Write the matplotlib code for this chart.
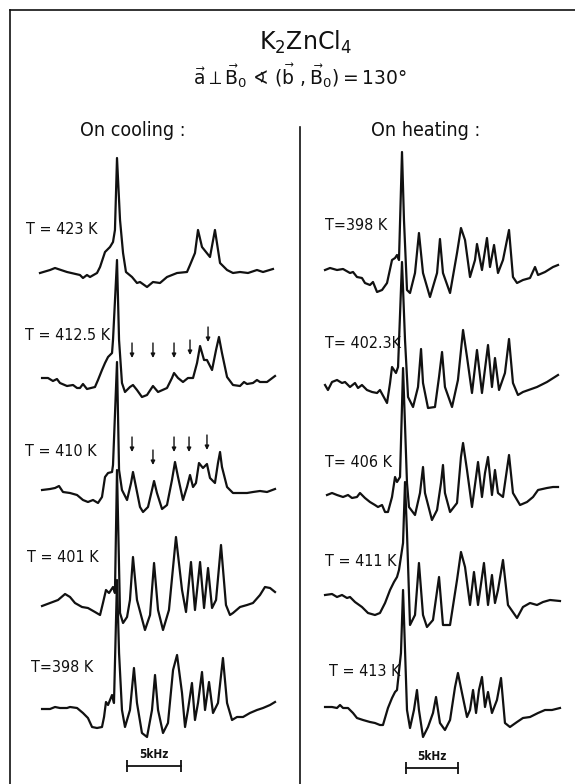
import numpy as np
import matplotlib
matplotlib.use('Agg')
import matplotlib.pyplot as plt
from matplotlib import font_manager as fm
from matplotlib.lines import Line2D

# ---------------- data (kHz from main line, intensity in arb. units) ----------------
# On cooling
c423_khz = [-7.13, -6.20, -5.74, -4.63, -3.43, -3.15, -2.78, -2.50, -1.85, -1.57, -1.11, -0.65, -0.37, -0.19, 0.0, 0.28, 0.56, 0.83,
            1.39, 1.85, 2.13, 2.78, 3.33, 3.98, 4.63, 5.56, 6.48, 6.76, 7.22, 7.50, 7.87, 8.61, 9.07, 9.54, 10.19, 10.74, 11.39,
            12.13, 12.96, 13.52, 14.44]
c423_int = [-1, 2, 4, 0, -3, -6, -3, -5, -1, 5, 20, 25, 30, 42, 114, 52, 19, 0,
            -5, -11, -10, -15, -10, -11, -5, -1, 0, 7, 19, 42, 25, 15, 42, 9, 2, -1, 0,
            -1, 2, 0, 3]

c412_khz = [-6.94, -6.39, -5.93, -5.56, -5.28, -4.63, -4.07, -3.70, -3.43, -3.15, -2.78, -2.04, -1.76, -1.39, -1.11, -0.83, -0.46,
            -0.37, 0.0, 0.19, 0.46, 0.74, 1.20, 1.48, 1.85, 2.31, 2.78, 3.33, 3.80, 4.63, 5.09, 5.28, 5.65, 6.11, 6.57, 7.04,
            7.41, 7.69, 8.06, 8.33, 8.80, 9.17, 9.44, 9.72, 10.19, 10.74, 11.39, 11.76, 12.04, 12.59, 12.96, 13.24, 13.89, 14.63]
c412_int = [0, 0, -3, -1, -5, -8, -7, -10, -10, -6, -11, -9, -2, 8, 15, 21, 25,
            38, 118, 38, -5, -14, -9, -7, -12, -19, -17, -8, -14, -10, 0, 5, 0, -4, 0, 0,
            15, 32, 18, 18, 8, 28, 41, 25, 1, -7, -8, -4, -6, -5, -2, -4, -4, 2]
c412_arrows_khz = [1.39, 3.33, 5.28, 6.76, 8.43]
c412_arrows_int = [20, 20, 20, 23, 36]

c410_khz = [-6.94, -6.20, -5.74, -5.37, -5.00, -4.35, -3.70, -3.15, -2.69, -2.22, -1.76, -1.39, -1.11, -0.83, -0.46, -0.37, 0.0,
            0.19, 0.46, 0.93, 1.30, 1.48, 1.76, 2.13, 2.41, 2.87, 3.24, 3.43, 3.70, 4.17, 4.63, 5.09, 5.37, 5.65, 6.11, 6.48,
            6.76, 7.04, 7.31, 7.59, 7.96, 8.33, 8.61, 9.07, 9.35, 9.54, 9.72, 10.19, 10.74, 11.39, 12.04, 12.59, 13.24, 13.89, 14.63]
c410_int = [0, 1, 2, 4, -2, -3, -5, -10, -12, -10, -13, -7, 13, 17, 18, 25, 128,
            20, 0, -10, 7, 18, 3, -17, -22, -17, 0, 9, -3, -19, -15, 10, 28, 13, -10, 3,
            15, 3, 7, 27, 22, 26, 12, 7, 27, 38, 23, 3, -3, -3, -3, -2, -1, -2, 1]
c410_arrows_khz = [1.39, 3.33, 5.28, 6.67, 8.33]
c410_arrows_int = [38, 25, 38, 38, 40]

c401_khz = [-6.94, -6.20, -5.46, -4.81, -4.35, -3.89, -3.24, -2.69, -2.04, -1.57, -1.30, -1.02, -0.74, -0.37, -0.19, 0.0, 0.28,
            0.56, 0.93, 1.20, 1.48, 1.85, 2.59, 3.06, 3.43, 3.80, 4.26, 4.81, 5.46, 6.02, 6.39, 6.85, 7.22, 7.69, 8.06, 8.43,
            8.80, 9.17, 9.63, 10.09, 10.46, 10.74, 11.39, 12.04, 12.59, 13.24, 13.70, 14.17, 14.63]
c401_int = [0, 3, 6, 12, 9, 3, -1, -2, -6, -9, 3, 16, 13, 19, 13, 136, -7,
            -17, -11, 6, 49, 6, -24, -9, 43, -4, -24, -4, 69, 16, -6, 44, -4, 44, -2, 38,
            -2, 6, 61, 1, -9, -7, -1, 1, 3, 11, 19, 18, 14]

c398_khz = [-6.94, -6.20, -5.74, -5.28, -4.63, -4.35, -3.70, -3.15, -2.69, -2.31, -1.85, -1.39, -1.20, -1.02, -0.83, -0.46, -0.28,
            0.0, 0.19, 0.46, 0.74, 1.20, 1.57, 1.85, 2.31, 2.78, 3.24, 3.52, 3.80, 4.26, 4.72, 5.19, 5.56, 6.02, 6.30, 6.57,
            6.94, 7.22, 7.50, 7.87, 8.15, 8.52, 8.89, 9.35, 9.81, 10.19, 10.65, 11.11, 11.67, 12.31, 12.96, 13.52, 14.17, 14.63]
c398_int = [0, 0, 2, 1, 1, 2, 1, -4, -9, -18, -19, -18, -8, 7, 4, 14, 6,
            129, 56, -1, -18, -1, 41, 6, -24, -28, -1, 34, -1, -24, -14, 39, 54, 16, -18, -1,
            26, -11, 6, 37, -1, 27, -4, 6, 51, 6, -11, -8, -8, -4, -1, 1, 4, 7]

# On heating
h398_khz = [-7.40, -6.92, -6.25, -5.67, -5.00, -4.71, -4.33, -3.85, -3.56, -3.08, -2.79, -2.40, -1.92, -1.44, -0.96, -0.67, -0.48,
            -0.29, 0.0, 0.19, 0.48, 0.77, 1.25, 1.63, 2.02, 2.69, 3.37, 3.65, 3.94, 4.62, 5.29, 5.67, 6.06, 6.54, 7.02, 7.21,
            7.69, 8.17, 8.46, 8.85, 9.23, 9.71, 10.29, 10.67, 11.06, 11.63, 12.31, 12.79, 13.08, 13.75, 14.52, 15.00]
h398_int = [0, 2, 0, 1, -3, -2, -7, -8, -13, -15, -12, -22, -20, -13, 10, 12, 15,
            10, 118, 50, -20, -23, -3, 37, -3, -27, -3, 31, -3, -23, 17, 42, 30, -7, 10, 26,
            0, 32, 3, 25, -3, 10, 40, -7, -13, -10, -8, 3, -5, -2, 3, 5]

h402_khz = [-7.40, -7.12, -6.73, -6.25, -5.77, -5.48, -5.00, -4.52, -4.23, -3.85, -3.37, -2.88, -2.40, -2.12, -1.44, -1.15, -0.96,
            -0.58, -0.38, 0.0, 0.29, 0.58, 1.06, 1.54, 1.83, 2.02, 2.50, 3.17, 3.56, 3.85, 4.13, 4.81, 5.38, 5.87, 6.25, 6.73,
            7.21, 7.69, 8.27, 8.65, 8.94, 9.33, 9.90, 10.29, 10.67, 11.15, 11.63, 12.98, 13.94, 15.00]
h402_int = [0, -5, 3, 5, 2, 3, -2, 2, -3, 0, -5, -7, -8, -5, -18, 2, 18,
            12, 18, 123, 45, -12, -22, -2, 36, 2, -23, -22, 8, 33, -2, -22, 5, 55, 28, -8,
            35, -8, 40, -2, 27, -5, 12, 46, 2, -10, -7, -2, 3, 10]

h406_khz = [-7.21, -6.73, -6.25, -5.67, -5.19, -4.81, -4.33, -4.04, -3.56, -3.08, -2.60, -2.31, -1.92, -1.63, -1.35, -0.96, -0.67,
            -0.48, -0.19, 0.10, 0.48, 0.67, 1.25, 1.73, 2.02, 2.21, 2.88, 3.37, 3.75, 3.94, 4.13, 4.62, 5.29, 5.67, 5.87, 6.25,
            6.73, 7.12, 7.31, 7.69, 7.98, 8.27, 8.65, 8.94, 9.23, 9.71, 10.29, 10.67, 11.35, 12.02, 12.60, 13.08, 13.94, 14.52, 15.00]
h406_int = [0, 2, 0, -2, 0, -3, -2, 2, -3, -7, -10, -12, -10, -17, -17, -2, 18,
            13, 18, 127, 12, -12, -20, 2, 28, 2, -25, -15, 12, 30, 2, -17, -8, 38, 52, 25,
            -12, 18, 33, -2, 22, 38, 0, 25, 2, -2, 40, 2, -10, -7, -2, 5, 7, 8, 8]

h411_khz = [-7.40, -6.73, -6.25, -5.77, -5.29, -5.00, -4.52, -3.85, -3.27, -2.60, -2.12, -1.63, -1.15, -0.77, -0.48, -0.29, 0.10,
            0.29, 0.48, 0.77, 1.25, 1.63, 2.02, 2.40, 2.98, 3.56, 3.94, 4.62, 5.29, 5.67, 6.06, 6.54, 6.92, 7.31, 7.88, 8.27,
            8.65, 8.94, 9.23, 9.71, 10.19, 11.06, 11.63, 12.31, 12.98, 13.56, 14.23, 15.19]
h411_int = [0, 1, -2, 0, -3, -2, -7, -12, -18, -20, -18, -8, 5, 13, 18, 25, 52,
            113, 62, -30, -20, 32, -20, -32, -25, 18, -30, -30, 15, 43, 28, -10, 23, -10, 32, -10,
            20, -8, 5, 35, -10, -23, -12, -8, -10, -7, -5, -6]

h413_khz = [-7.40, -6.73, -6.25, -5.96, -5.67, -5.19, -4.71, -4.33, -3.75, -3.08, -2.60, -2.12, -1.83, -1.35, -0.96, -0.67, -0.48,
            -0.10, 0.10, 0.29, 0.48, 0.77, 1.15, 1.44, 1.63, 2.02, 2.50, 2.98, 3.27, 3.65, 4.13, 4.62, 5.10, 5.38, 5.77, 6.25,
            6.54, 6.83, 7.12, 7.40, 7.69, 7.98, 8.27, 8.65, 9.13, 9.52, 9.90, 10.38, 11.06, 11.63, 12.31, 13.08, 13.75, 14.42, 15.19]
h413_int = [0, 0, -1, 2, -1, -1, -6, -11, -13, -15, -16, -18, -18, -1, 9, 15, 17,
            54, 117, 57, -3, -21, -3, 17, -3, -30, -20, -6, 10, -16, -23, -13, 20, 34, 14, -10,
            -3, 17, -6, 17, 30, 0, 15, -6, 7, 29, -16, -20, -15, -11, -10, -6, -3, -3, -1]

cooling_labels = ['T = 423 K', 'T = 412.5 K', 'T = 410 K', 'T = 401 K', 'T=398 K']
heating_labels = ['T=398 K', 'T= 402.3K', 'T= 406 K', 'T = 411 K', 'T = 413 K']
scale_khz = 5

# ---------------- layout (pixels of the 575x784 picture) ----------------
W, H = 575, 784
L_PEAK, L_PXK = 117, 10.8     # main line position / px per kHz, left column
R_PEAK, R_PXK = 402, 10.4
left_base = [272, 378, 490, 606, 709]
right_base = [270, 385, 495, 595, 707]
left_lab = [(26, 230), (25, 335), (25, 452), (27, 558), (31, 668)]
right_lab = [(325, 225), (325, 343), (325, 463), (325, 562), (329, 672)]

# a condensed face if there is one, the original lettering is narrow
condensed = any(f.name == 'DejaVu Sans' and 'ondensed' in f.fname for f in fm.fontManager.ttflist)
STRETCH = 'condensed' if condensed else 'normal'
K = 1.0 if condensed else 0.84          # shrink text a bit when no condensed face

plt.rcParams['font.family'] = ['DejaVu Sans']
plt.rcParams['mathtext.default'] = 'regular'
plt.rcParams['mathtext.fontset'] = 'dejavusans'

INK = '#111111'
fig = plt.figure(figsize=(W / 100, H / 100), dpi=100)
fig.patch.set_facecolor('white')


def fx(px):
    return px / W


def fy(py):
    return 1 - py / H


axL = fig.add_axes([0, 0, 300 / W, 1])
axL.set_xlim(-L_PEAK / L_PXK, (300 - L_PEAK) / L_PXK)
axR = fig.add_axes([300 / W, 0, 275 / W, 1])
axR.set_xlim((300 - R_PEAK) / R_PXK, (575 - R_PEAK) / R_PXK)
for ax in (axL, axR):
    ax.set_ylim(-H, 0)
    ax.axis('off')

cool = [(c423_khz, c423_int), (c412_khz, c412_int), (c410_khz, c410_int), (c401_khz, c401_int), (c398_khz, c398_int)]
heat = [(h398_khz, h398_int), (h402_khz, h402_int), (h406_khz, h406_int), (h411_khz, h411_int), (h413_khz, h413_int)]

for (x, y), b in zip(cool, left_base):
    axL.plot(x, np.array(y) - b, color=INK, lw=1.6, solid_joinstyle='round')
for (x, y), b in zip(heat, right_base):
    axR.plot(x, np.array(y) - b, color=INK, lw=1.6, solid_joinstyle='round')

# arrows marking the new lines
for xs, ys, b in [(c412_arrows_khz, c412_arrows_int, left_base[1]),
                  (c410_arrows_khz, c410_arrows_int, left_base[2])]:
    for xa, ya in zip(xs, ys):
        axL.annotate('', xy=(xa, ya - b), xytext=(xa, ya - b + 15),
                     arrowprops=dict(arrowstyle='-|>', color=INK, lw=1, mutation_scale=6,
                                     shrinkA=0, shrinkB=0))

# 5 kHz scale bars
for ax, x0, yb in [(axL, (127 - L_PEAK) / L_PXK, 766), (axR, (406 - R_PEAK) / R_PXK, 768)]:
    ax.plot([x0, x0 + scale_khz], [-yb, -yb], color=INK, lw=1.3, marker='|', ms=8, mew=1.3)
    ax.text(x0 + scale_khz / 2, -yb + 5, '5kHz', ha='center', va='bottom', fontsize=8.5 * K,
            fontweight='bold', fontstretch=STRETCH, color=INK)

# temperature labels
for s, (px, py) in zip(cooling_labels, left_lab):
    fig.text(fx(px), fy(py), s, ha='left', va='center', fontsize=11.5 * K, fontstretch=STRETCH, color=INK)
for s, (px, py) in zip(heating_labels, right_lab):
    fig.text(fx(px), fy(py), s, ha='left', va='center', fontsize=11.5 * K, fontstretch=STRETCH, color=INK)

fig.text(fx(133), fy(130), 'On cooling :', ha='center', va='center', fontsize=14, fontstretch=STRETCH, color=INK)
fig.text(fx(426), fy(130), 'On heating :', ha='center', va='center', fontsize=14, fontstretch=STRETCH, color=INK)

# title
fig.text(fx(305), fy(42), r'$K_2ZnCl_4$', ha='center', va='center', fontsize=17, color=INK)
fig.text(fx(300), fy(76), r'$\vec{a} \perp \vec{B}_0$ ∢ $(\vec{b}\ ,\vec{B}_0) = 130°$',
         ha='center', va='center', fontsize=13.5, color=INK)

# frame
for (x0, y0, x1, y1) in [(10, 10, 575, 10), (10, 10, 10, 784), (300, 127, 300, 784)]:
    fig.add_artist(Line2D([fx(x0), fx(x1)], [fy(y0), fy(y1)], color=INK, lw=1.2))

fig.savefig('out.png', dpi=100, facecolor='white')
